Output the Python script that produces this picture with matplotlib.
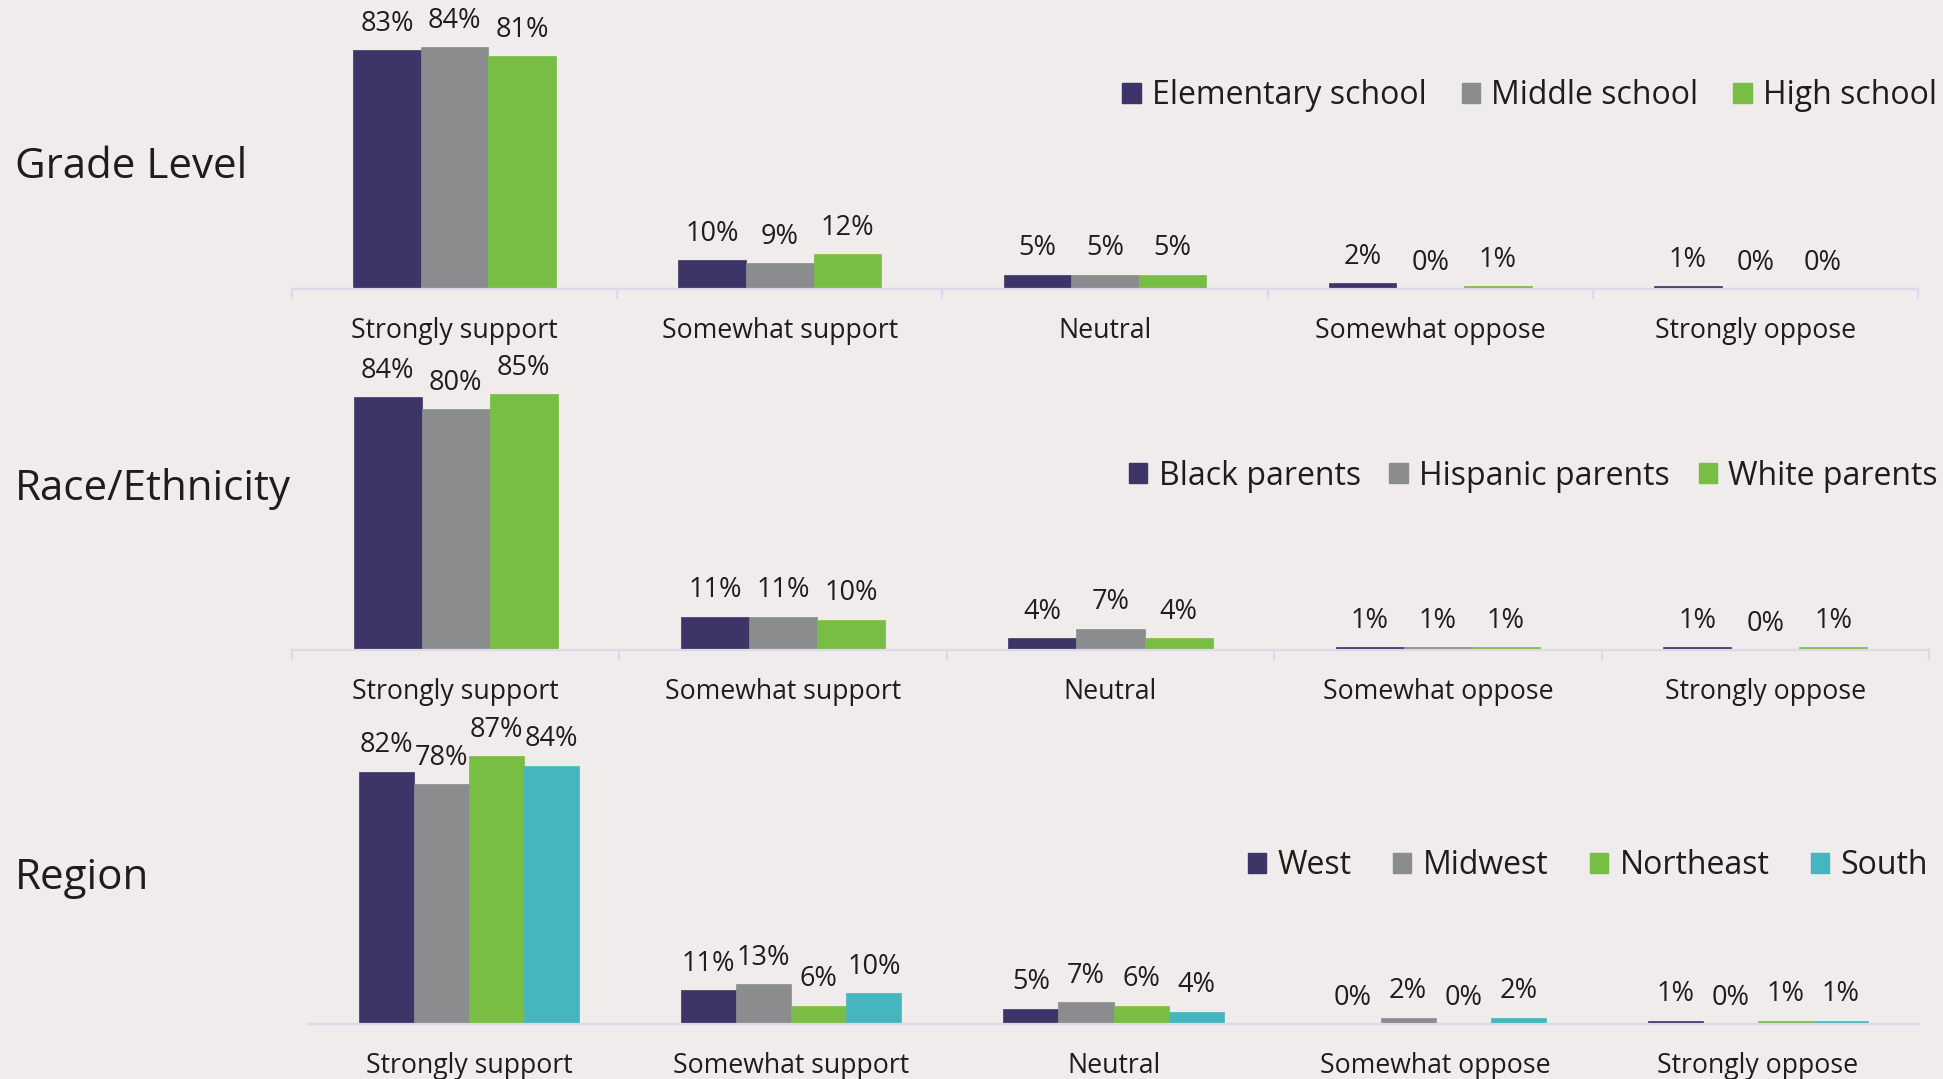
import matplotlib
matplotlib.use("Agg")
import matplotlib.pyplot as plt
from matplotlib.patches import Patch

plt.rcParams["font.family"] = ["Open Sans", "DejaVu Sans"]

BG = "#F0ECEB"
TEXT = "#1E1C1C"
AXIS = "#DCD9EC"
PURPLE = "#3D3468"
GREY = "#8A8C8E"
GREEN = "#78BE44"
TEAL = "#45B5BF"

responses = ["Strongly support", "Somewhat support", "Neutral",
             "Somewhat oppose", "Strongly oppose"]

grade_names = ["Elementary school", "Middle school", "High school"]
grade_elem = [83, 10, 5, 2, 1]
grade_mid = [84, 9, 5, 0, 0]
grade_high = [81, 12, 5, 1, 0]

race_names = ["Black parents", "Hispanic parents", "White parents"]
race_black = [84, 11, 4, 1, 1]
race_hisp = [80, 11, 7, 1, 0]
race_white = [85, 10, 4, 1, 1]

region_names = ["West", "Midwest", "Northeast", "South"]
region_west = [82, 11, 5, 0, 1]
region_mid = [78, 13, 7, 2, 0]
region_ne = [87, 6, 6, 0, 1]
region_south = [84, 10, 4, 2, 1]

W, H = 1943, 1079
fig = plt.figure(figsize=(W / 100, H / 100), dpi=100, facecolor=BG)


def panel(left, right, base, height, px_per_pct, title, title_y, names, series,
          colors, bar_w, legend_right, legend_y, col_space, boundary_ticks=True):
    ax = fig.add_axes([left / W, 1 - base / H, (right - left) / W, height / H])
    ax.set_facecolor("none")
    n = len(series)
    for i, (vals, col) in enumerate(zip(series, colors)):
        xs = [g + 0.5 + (i - (n - 1) / 2) * bar_w for g in range(len(vals))]
        ax.bar(xs, vals, bar_w, color=col, edgecolor=col, lw=0.5)
        for x, v in zip(xs, vals):
            ax.annotate(f"{v}%", (x, v), xytext=(0, 14), textcoords="offset points",
                        ha="center", va="baseline", fontsize=19.5, color=TEXT)
    ax.set_xlim(0, len(responses))
    ax.set_ylim(0, height / px_per_pct)
    for s in ["top", "right", "left"]:
        ax.spines[s].set_visible(False)
    ax.spines["bottom"].set_color(AXIS)
    ax.spines["bottom"].set_linewidth(1.6)
    ax.set_yticks([])
    ax.set_xticks([g + 0.5 for g in range(len(responses))])
    ax.set_xticklabels(responses, fontsize=19.2, color=TEXT)
    ax.tick_params(axis="x", which="major", length=0, pad=20)
    if boundary_ticks:
        ax.set_xticks(range(len(responses) + 1), minor=True)
        ax.tick_params(axis="x", which="minor", length=7, width=1.6, color=AXIS)
    fig.text(15 / W, 1 - title_y / H, title, fontsize=30.3, color=TEXT, va="center")
    handles = [Patch(color=c) for c in colors]
    fig.legend(handles, names, loc="center right", ncol=len(names),
               bbox_to_anchor=(legend_right / W, 1 - legend_y / H),
               frameon=False, fontsize=23, handlelength=0.58, handleheight=0.58,
               handletextpad=0.35, columnspacing=col_space, labelcolor=TEXT,
               borderpad=0, borderaxespad=0)
    return ax


panel(292, 1918, 289, 260, 2.876, "Grade Level", 167, grade_names,
      [grade_elem, grade_mid, grade_high], [PURPLE, GREY, GREEN], 0.208,
      1937, 96, 1.09)
panel(292, 1929, 650, 270, 3.01, "Race/Ethnicity", 489, race_names,
      [race_black, race_hisp, race_white], [PURPLE, GREY, GREEN], 0.208,
      1938, 476, 0.9)
panel(308, 1919, 1024, 290, 3.075, "Region", 878, region_names,
      [region_west, region_mid, region_ne, region_south],
      [PURPLE, GREY, GREEN, TEAL], 0.171, 1928, 866, 1.3, boundary_ticks=False)

fig.savefig("out.png", dpi=100, facecolor=BG)
